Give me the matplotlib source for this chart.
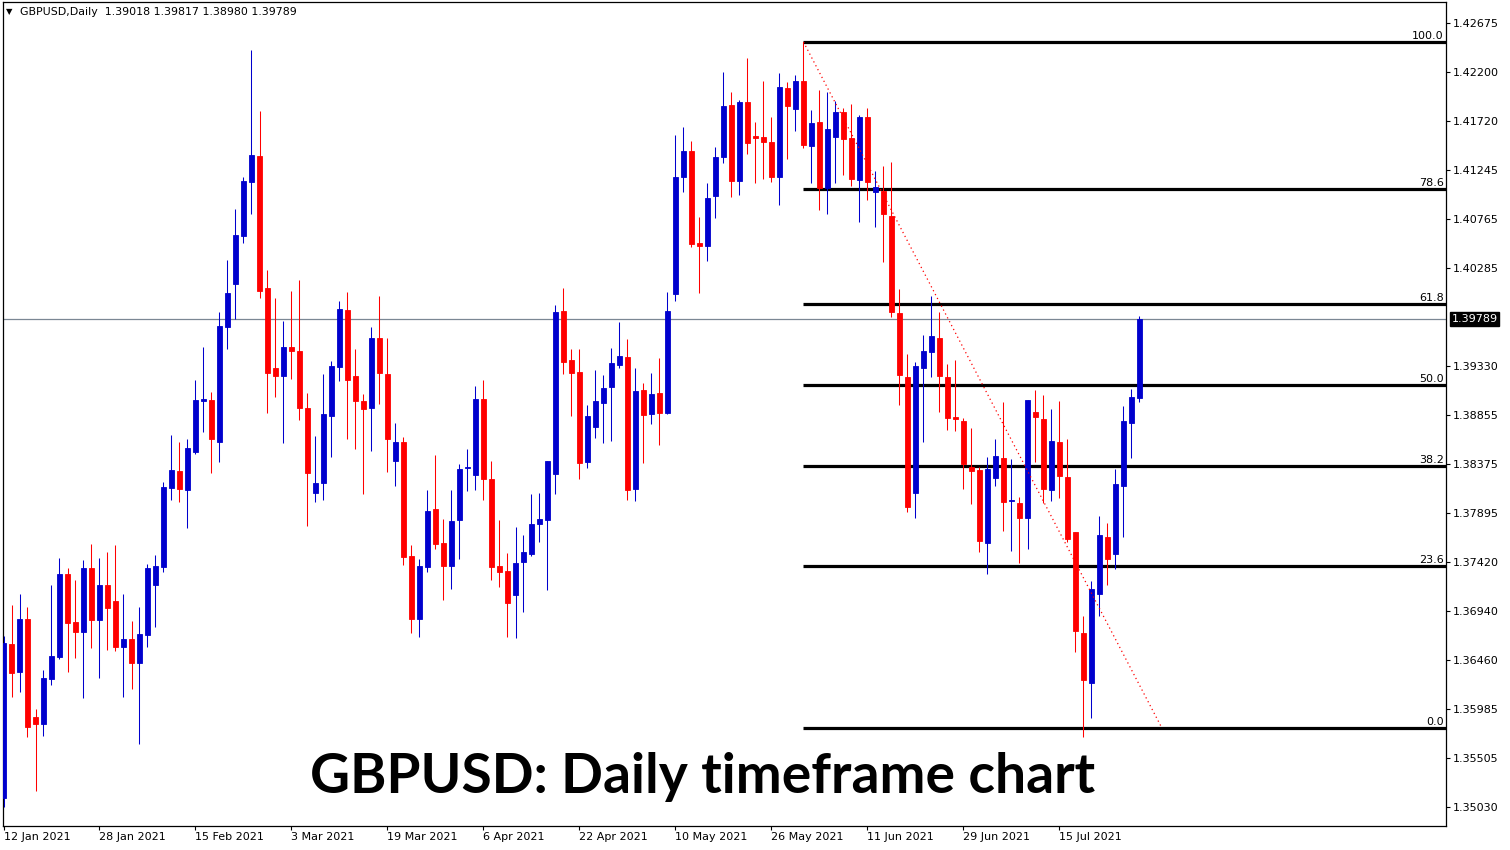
import numpy as np
import pandas as pd
import matplotlib
matplotlib.use("Agg")
import matplotlib.pyplot as plt

# GBPUSD daily
opens = [1.3512, 1.3662, 1.3635, 1.3686, 1.3591, 1.3584, 1.3628, 1.3649, 1.3730, 1.3683,
         1.3674, 1.3736, 1.3685, 1.3719, 1.3704, 1.3659, 1.3667, 1.3643, 1.3671, 1.3719,
         1.3737, 1.3814, 1.3831, 1.3812, 1.3849, 1.3899, 1.3900, 1.3859, 1.3971, 1.4013,
         1.4060, 1.4112, 1.4138, 1.4009, 1.3931, 1.3923, 1.3952, 1.3948, 1.3892, 1.3809,
         1.3819, 1.3884, 1.3932, 1.3988, 1.3923, 1.3899, 1.3892, 1.3960, 1.3925, 1.3840,
         1.3859, 1.3748, 1.3686, 1.3737, 1.3794, 1.3760, 1.3738, 1.3783, 1.3834, 1.3827,
         1.3901, 1.3823, 1.3738, 1.3733, 1.3710, 1.3742, 1.3750, 1.3779, 1.3783, 1.3828,
         1.3987, 1.3939, 1.3927, 1.3839, 1.3874, 1.3897, 1.3913, 1.3934, 1.3942, 1.3813,
         1.3910, 1.3886, 1.3907, 1.3887, 1.4003, 1.4117, 1.4143, 1.4053, 1.4050, 1.4099,
         1.4137, 1.4188, 1.4113, 1.4190, 1.4157, 1.4156, 1.4151, 1.4117, 1.4204, 1.4184,
         1.4211, 1.4148, 1.4171, 1.4107, 1.4156, 1.4181, 1.4155, 1.4114, 1.4176, 1.4103,
         1.4104, 1.4079, 1.3985, 1.3922, 1.3809, 1.3931, 1.3947, 1.3960, 1.3922, 1.3883,
         1.3879, 1.3835, 1.3832, 1.3760, 1.3824, 1.3843, 1.3801, 1.3799, 1.3785, 1.3888,
         1.3881, 1.3812, 1.3859, 1.3825, 1.3771, 1.3673, 1.3624, 1.3711, 1.3766, 1.3750,
         1.3816, 1.3877, 1.39018]
highs = [1.3670, 1.3700, 1.3711, 1.3698, 1.3599, 1.3637, 1.3719, 1.3746, 1.3736, 1.3724,
         1.3744, 1.3759, 1.3746, 1.3752, 1.3758, 1.3711, 1.3684, 1.3698, 1.3740, 1.3749,
         1.3820, 1.3866, 1.3859, 1.3862, 1.3919, 1.3952, 1.3908, 1.3986, 1.4036, 1.4086,
         1.4117, 1.4241, 1.4182, 1.4027, 1.3999, 1.3977, 1.4006, 1.4017, 1.3907, 1.3865,
         1.3925, 1.3938, 1.3996, 1.4005, 1.3950, 1.3906, 1.3971, 1.4001, 1.3960, 1.3877,
         1.3864, 1.3758, 1.3745, 1.3812, 1.3846, 1.3784, 1.3812, 1.3837, 1.3852, 1.3914,
         1.3919, 1.3840, 1.3783, 1.3751, 1.3776, 1.3768, 1.3808, 1.3809, 1.3840, 1.3993,
         1.4009, 1.3950, 1.3950, 1.3895, 1.3929, 1.3924, 1.3951, 1.3976, 1.3959, 1.3931,
         1.3916, 1.3926, 1.3941, 1.4005, 1.4158, 1.4166, 1.4152, 1.4078, 1.4111, 1.4147,
         1.4220, 1.4200, 1.4192, 1.4233, 1.4171, 1.4211, 1.4176, 1.4219, 1.4210, 1.4217,
         1.4249, 1.4183, 1.4202, 1.4200, 1.4191, 1.4185, 1.4189, 1.4178, 1.4185, 1.4123,
         1.4128, 1.4132, 1.4008, 1.3945, 1.3937, 1.3963, 1.4001, 1.3986, 1.3935, 1.3939,
         1.3882, 1.3873, 1.3835, 1.3844, 1.3862, 1.3898, 1.3842, 1.3805, 1.3900, 1.3910,
         1.3905, 1.3891, 1.3899, 1.3862, 1.3771, 1.3689, 1.3723, 1.3787, 1.3780, 1.3833,
         1.3894, 1.3911, 1.39817]
lows = [1.3503, 1.3610, 1.3615, 1.3571, 1.3519, 1.3572, 1.3622, 1.3647, 1.3635, 1.3648,
        1.3609, 1.3658, 1.3629, 1.3656, 1.3655, 1.3610, 1.3618, 1.3564, 1.3659, 1.3679,
        1.3732, 1.3802, 1.3800, 1.3775, 1.3847, 1.3869, 1.3829, 1.3839, 1.3950, 1.3979,
        1.4053, 1.4081, 1.3999, 1.3887, 1.3903, 1.3858, 1.3920, 1.3880, 1.3777, 1.3800,
        1.3802, 1.3844, 1.3918, 1.3862, 1.3852, 1.3808, 1.3850, 1.3896, 1.3830, 1.3816,
        1.3739, 1.3673, 1.3669, 1.3732, 1.3755, 1.3705, 1.3716, 1.3745, 1.3811, 1.3812,
        1.3802, 1.3724, 1.3718, 1.3669, 1.3668, 1.3693, 1.3748, 1.3761, 1.3715, 1.3808,
        1.3925, 1.3884, 1.3823, 1.3834, 1.3863, 1.3858, 1.3860, 1.3931, 1.3802, 1.3801,
        1.3838, 1.3876, 1.3856, 1.3886, 1.3996, 1.4103, 1.4049, 1.4004, 1.4035, 1.4077,
        1.4131, 1.4098, 1.4100, 1.4140, 1.4111, 1.4115, 1.4112, 1.4090, 1.4135, 1.4162,
        1.4146, 1.4111, 1.4085, 1.4081, 1.4111, 1.4119, 1.4109, 1.4073, 1.4095, 1.4069,
        1.4034, 1.3981, 1.3895, 1.3791, 1.3785, 1.3859, 1.3922, 1.3888, 1.3871, 1.3870,
        1.3813, 1.3798, 1.3752, 1.3730, 1.3816, 1.3772, 1.3753, 1.3741, 1.3755, 1.3839,
        1.3799, 1.3801, 1.3804, 1.3761, 1.3654, 1.3571, 1.3590, 1.3689, 1.3719, 1.3735,
        1.3766, 1.3843, 1.38980]
closes = [1.3663, 1.3634, 1.3686, 1.3581, 1.3584, 1.3629, 1.3650, 1.3730, 1.3682, 1.3674,
          1.3736, 1.3685, 1.3719, 1.3697, 1.3659, 1.3667, 1.3643, 1.3672, 1.3736, 1.3738,
          1.3815, 1.3832, 1.3813, 1.3853, 1.3900, 1.3901, 1.3862, 1.3972, 1.4004, 1.4061,
          1.4113, 1.4139, 1.4006, 1.3926, 1.3923, 1.3952, 1.3948, 1.3892, 1.3829, 1.3819,
          1.3886, 1.3933, 1.3989, 1.3919, 1.3899, 1.3891, 1.3960, 1.3926, 1.3862, 1.3859,
          1.3747, 1.3686, 1.3738, 1.3792, 1.3759, 1.3738, 1.3782, 1.3833, 1.3835, 1.3901,
          1.3823, 1.3737, 1.3732, 1.3702, 1.3741, 1.3752, 1.3779, 1.3784, 1.3840, 1.3986,
          1.3937, 1.3926, 1.3838, 1.3884, 1.3899, 1.3912, 1.3936, 1.3943, 1.3812, 1.3909,
          1.3885, 1.3906, 1.3887, 1.3987, 1.4117, 1.4143, 1.4052, 1.4050, 1.4097, 1.4137,
          1.4187, 1.4113, 1.4190, 1.4150, 1.4155, 1.4151, 1.4117, 1.4205, 1.4187, 1.4211,
          1.4149, 1.4170, 1.4107, 1.4164, 1.4181, 1.4154, 1.4115, 1.4176, 1.4112, 1.4108,
          1.4081, 1.3986, 1.3924, 1.3796, 1.3933, 1.3948, 1.3962, 1.3923, 1.3882, 1.3881,
          1.3837, 1.3831, 1.3762, 1.3833, 1.3845, 1.3800, 1.3802, 1.3785, 1.3900, 1.3883,
          1.3813, 1.3860, 1.3826, 1.3764, 1.3675, 1.3627, 1.3716, 1.3768, 1.3745, 1.3818,
          1.3879, 1.3903, 1.39789]

dates = pd.bdate_range("2021-01-12", periods=len(opens))

price_ticks = [1.42675, 1.42200, 1.41720, 1.41245, 1.40765, 1.40285, 1.39330,
               1.38855, 1.38375, 1.37895, 1.37420, 1.36940, 1.36460, 1.35985,
               1.35505, 1.35030]

fib_high = 1.4249
fib_low = 1.3580
fib_start = 100
fib_end = 144.8
fib_ratios = [100.0, 78.6, 61.8, 50.0, 38.2, 23.6, 0.0]
last_price = 1.39789

W, H = 1510, 850
fig = plt.figure(figsize=(W / 100, H / 100), dpi=100)
ax = fig.add_axes([3 / W, 1 - 826 / H, (1446 - 3) / W, (826 - 2) / H])

o = np.array(opens); h = np.array(highs); l = np.array(lows); c = np.array(closes)
x = np.arange(len(o))
up = c >= o
cols = np.where(up, "#0000cd", "#ff0000")

ax.vlines(x, l, h, colors=cols, linewidth=0.75, zorder=3)
bottom = np.minimum(o, c)
height = np.abs(c - o)
ax.bar(x, height, bottom=bottom, width=0.6, color=cols, edgecolor=cols,
       linewidth=0.6, zorder=4)

# current price line
ax.axhline(last_price, color="#7b8794", linewidth=0.9, zorder=1)

# fibonacci retracement
xmax = (1446 - 3.5) / 8
for r in fib_ratios:
    lvl = fib_low + (fib_high - fib_low) * r / 100
    ax.hlines(lvl, fib_start, xmax, color="black", linewidth=2.3, zorder=2)
    ax.text(0.9985, lvl + 0.00012, f"{r:.1f}", transform=ax.get_yaxis_transform(),
            ha="right", va="bottom", fontsize=8, color="black")
ax.plot([fib_start, fib_end], [fib_high, fib_low], color="red",
        linestyle=(0, (1, 2.5)), linewidth=0.9, zorder=5)

ax.set_xlim((3 - 3.5) / 8, xmax)
ax.set_ylim(1.348447, 1.428798)

# axes look like MT4
for s in ax.spines.values():
    s.set_color("black")
    s.set_linewidth(0.9)
ax.yaxis.tick_right()
ax.set_yticks(price_ticks)
ax.set_yticklabels([f"{p:.5f}" for p in price_ticks])
ax.tick_params(axis="y", direction="out", length=3, width=0.8, pad=2,
               labelsize=8, colors="black")

tick_idx = list(range(0, len(x), 12))
ax.set_xticks(tick_idx)
ax.set_xticklabels([f"{dates[i].day} {dates[i].strftime('%b %Y')}" for i in tick_idx],
                   ha="left")
for lab in ax.get_xticklabels():
    lab.set_x(lab.get_position()[0])
ax.tick_params(axis="x", direction="out", length=3, width=0.8, pad=1,
               labelsize=8, colors="black")

ax.annotate(f"{last_price:.5f}", xy=(1.0, last_price),
            xycoords=ax.get_yaxis_transform(), xytext=(4, 0),
            textcoords="offset points", ha="left", va="center", fontsize=8,
            color="white", annotation_clip=False,
            bbox=dict(boxstyle="square,pad=0.15", fc="black", ec="black"))

# header text
fig.text(9 / W, 1 - 12 / H, "\u25BC", fontsize=6, ha="center", va="center")
fig.text(20 / W, 1 - 12 / H, "GBPUSD,Daily  1.39018 1.39817 1.38980 1.39789",
         fontsize=7.9, ha="left", va="center")

fig.text(703 / W, 1 - 777 / H, "GBPUSD: Daily timeframe chart", fontsize=39.7,
         fontweight="bold", family="Lato", ha="center", va="center", color="black")

fig.savefig("out.png", dpi=100, facecolor="white")
